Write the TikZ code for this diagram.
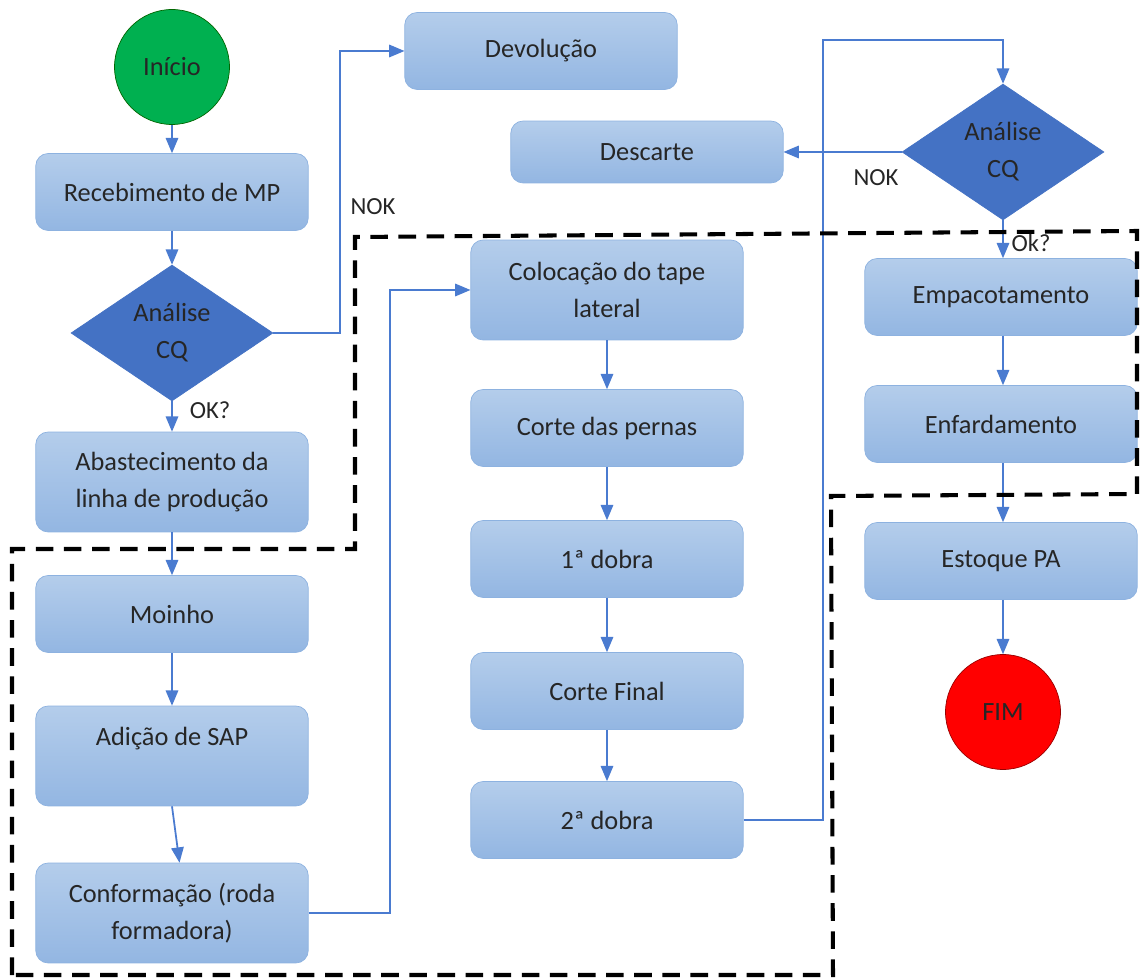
\documentclass[tikz,border=0pt]{standalone}
\usepackage{fontspec}
\setmainfont{Carlito}
\usetikzlibrary{positioning,shapes,arrows}

\definecolor{boxtop}{HTML}{B4CDEB}
\definecolor{boxbot}{HTML}{93B6E2}
\definecolor{boxline}{HTML}{8DB2E0}
\definecolor{linec}{HTML}{4A7BD0}
\definecolor{cqblue}{HTML}{4472C4}
\definecolor{textc}{HTML}{262626}

\begin{document}
\begin{tikzpicture}[x=0.02cm,y=-0.02cm]
\tikzstyle{every node}+=[font=\fontsize{15}{21}\selectfont, text=textc]
\tikzstyle{proc}=[draw=boxline, rounded corners=7pt, top color=boxtop, bottom color=boxbot, minimum width=5.45cm, minimum height=1.54cm, align=center]
\tikzstyle{tallproc}=[proc, minimum height=2cm]
\tikzstyle{cq}=[diamond, draw=cqblue, fill=cqblue, minimum width=4.04cm, minimum height=2.6cm, inner sep=0pt, align=center]
\tikzstyle{flow}=[draw=linec, line width=1pt, -triangle 45]
\tikzstyle{lbl}=[font=\fontsize{14}{16}\selectfont]
\useasboundingbox (0,0) rectangle (1140,979);

% left column
\node [circle, draw=green!40!black, fill={rgb,255:red,0;green,176;blue,80}, minimum size=2.3cm] (inicio) at (172,67) {Início};
\node [proc] (receb) at (172,192) {Recebimento de MP};
\node [cq] (cq1) at (172,333) {Análise\\CQ};
\node [tallproc] (abast) at (172,482) {Abastecimento da\\linha de produção};
\node [proc] (moinho) at (172,614) {Moinho};
\node [tallproc, text depth=22pt] (sap) at (172,756) {Adição de SAP};
\node [tallproc] (conf) at (172,913) {Conformação (roda\\formadora)};

% top
\node [proc] (devol) at (541,51) {Devolução};
\node [proc, minimum height=1.24cm] (desc) at (647,152) {Descarte};

% middle column
\node [tallproc] (coloc) at (607,290) {Colocação do tape\\lateral};
\node [proc] (corte) at (607,428) {Corte das pernas};
\node [proc] (dobra1) at (607,559) {1ª dobra};
\node [proc] (final) at (607,691) {Corte Final};
\node [proc] (dobra2) at (607,820) {2ª dobra};

% right column
\node [cq, minimum height=2.55cm] (cq2) at (1003,152) {Análise\\CQ};
\node [proc] (empac) at (1001,297) {Empacotamento};
\node [proc] (enfard) at (1001,424) {Enfardamento};
\node [proc] (estoque) at (1001,561) {Estoque PA};
\node [circle, draw=red!60!black, fill=red, minimum size=2.3cm] (fim) at (1003,712) {FIM};

% bends
\coordinate (k1) at (340,333);
\coordinate (k2) at (390,290);
\coordinate (k3) at (823,40);

\draw [flow] (inicio) -- (receb);
\draw [flow] (receb) -- (cq1);
\draw [flow] (cq1) -- (abast);
\node [lbl] (ok1) at (210,410) {OK?};
\draw [flow] (cq1.east) -- (k1) |- (devol.west);
\node [lbl] (nok1) at (373,207) {NOK};
\draw [flow] (abast) -- (moinho);
\draw [flow] (moinho) -- (sap);
\draw [flow] (sap.south) -- ([xshift=0.15cm]conf.north);
\draw [flow] (conf.east) -| (k2) -- (coloc.west);
\draw [flow] (coloc) -- (corte);
\draw [flow] (corte) -- (dobra1);
\draw [flow] (dobra1) -- (final);
\draw [flow] (final) -- (dobra2);
\draw [flow] (dobra2.east) -| (k3) -| (cq2.north);
\draw [flow] (cq2.west) -- (desc.east);
\node [lbl] (nok2) at (876,178) {NOK};
\draw [flow] (cq2.south) -- (empac.north -| cq2.south);
\node [lbl] (ok2) at (1031,243) {Ok?};
\draw [flow] (empac.south -| cq2.south) -- (enfard.north -| cq2.south);
\draw [flow] (enfard.south -| cq2.south) -- (estoque.north -| cq2.south);
\draw [flow] (estoque.south -| cq2.south) -- (fim);

% area boundary
\draw [black, line width=2.3pt, dash pattern=on 10pt off 6pt]
  (12,975) -- (12,549) -- (355,549) -- (355,237) -- (1137,231) -- (1137,494) -- (831,496) -- (833,975) -- cycle;
\end{tikzpicture}
\end{document}
